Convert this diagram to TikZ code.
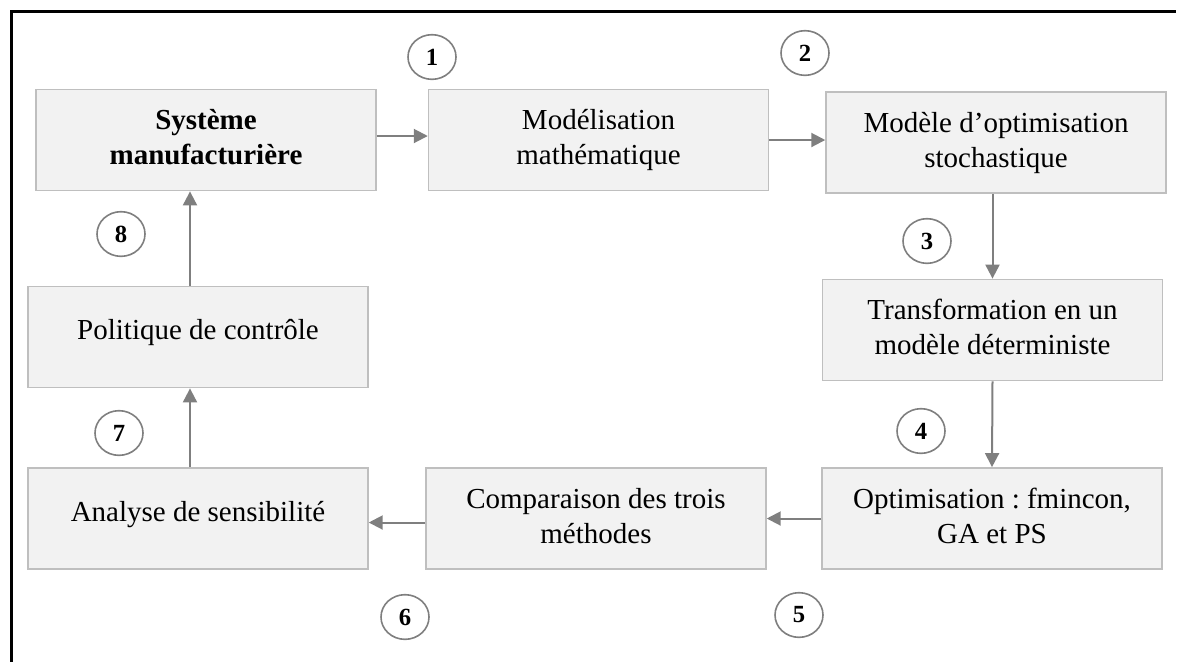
\documentclass[tikz,border=0pt]{standalone}
\usepackage{fontspec}
\setmainfont{Liberation Serif}
\usetikzlibrary{shapes.geometric,arrows.meta}
\definecolor{boxfill}{HTML}{F2F2F2}
\definecolor{boxline}{HTML}{BFBFBF}
\definecolor{linkgray}{HTML}{7F7F7F}
% two centred lines, lifted slightly inside the box
\newcommand{\twolines}[2]{\raisebox{2pt}{\begin{tabular}{@{}c@{}}#1\\#2\end{tabular}}}
% a single line sits in the upper part of the box
\newcommand{\oneline}[1]{\raisebox{11pt}{#1}}
\begin{document}
\frenchspacing
\begin{tikzpicture}[x=0.75pt,y=-0.75pt,
  stepbox/.style={draw=boxline,fill=boxfill,line width=1.1pt,
    minimum width=255pt,minimum height=76pt,inner sep=0pt,align=center,
    font=\fontsize{21.75pt}{26.25pt}\selectfont},
  numtag/.style={ellipse,draw=linkgray,line width=1.2pt,
    minimum width=36pt,minimum height=33.5pt,inner sep=0pt,
    font=\fontsize{18.5pt}{20pt}\selectfont\bfseries},
  link/.style={draw=linkgray,line width=1.5pt,
    -{Triangle[length=10.5pt,width=10.5pt]}},
  frameline/.style={line width=2.25pt}]
  \useasboundingbox (0,0) rectangle (1178,662);

  % outer frame (top and left edges)
  \coordinate (fa) at (10,11);
  \coordinate (fb) at (1176,11);
  \coordinate (fc) at (11,10);
  \coordinate (fd) at (11,662);
  \draw[frameline] (fa) -- (fb);
  \draw[frameline] (fc) -- (fd);

  % process boxes
  \node[stepbox] (sys) at (206,140) {\twolines{\textbf{Système}}{\textbf{manufacturière}}};
  \node[stepbox] (mod) at (598.5,140) {\twolines{Modélisation}{mathématique}};
  \node[stepbox] (sto) at (996,142.5) {\twolines{Modèle d’optimisation}{stochastique}};
  \node[stepbox] (det) at (992.5,330) {\twolines{Transformation en un}{modèle déterministe}};
  \node[stepbox] (opt) at (992,518.5) {\twolines{Optimisation : fmincon,}{GA et PS}};
  \node[stepbox] (cmp) at (596,518.5) {\twolines{Comparaison des trois}{méthodes}};
  \node[stepbox] (ana) at (198,518.5) {\oneline{Analyse de sensibilité}};
  \node[stepbox] (pol) at (198,337) {\oneline{Politique de contrôle}};

  % connectors
  \draw[link] ([yshift=3pt]sys.east) -- ([yshift=3pt]mod.west);
  \draw[link] (mod.east) -- (mod.east -| sto.west);
  \draw[link] (det.north |- sto.south) -- (det.north);
  \draw[link] (det.south) -- (opt.north);
  \draw[link] (opt.west) -- (cmp.east);
  \draw[link] ([yshift=-3pt]cmp.west) -- ([yshift=-3pt]ana.east);
  \draw[link] ([xshift=-6pt]ana.north) -- ([xshift=-6pt]pol.south);
  \draw[link] ([xshift=-6pt]pol.north) -- ([xshift=-6pt]pol.north |- sys.south);

  % step numbers
  \node[numtag] (n1) at (432,57) {1};
  \node[numtag] (n2) at (805,53) {2};
  \node[numtag] (n3) at (927,241) {3};
  \node[numtag] (n4) at (921,431) {4};
  \node[numtag] (n5) at (799,615) {5};
  \node[numtag] (n6) at (405,617) {6};
  \node[numtag] (n7) at (119,433) {7};
  \node[numtag] (n8) at (121,234) {8};
\end{tikzpicture}
\end{document}
